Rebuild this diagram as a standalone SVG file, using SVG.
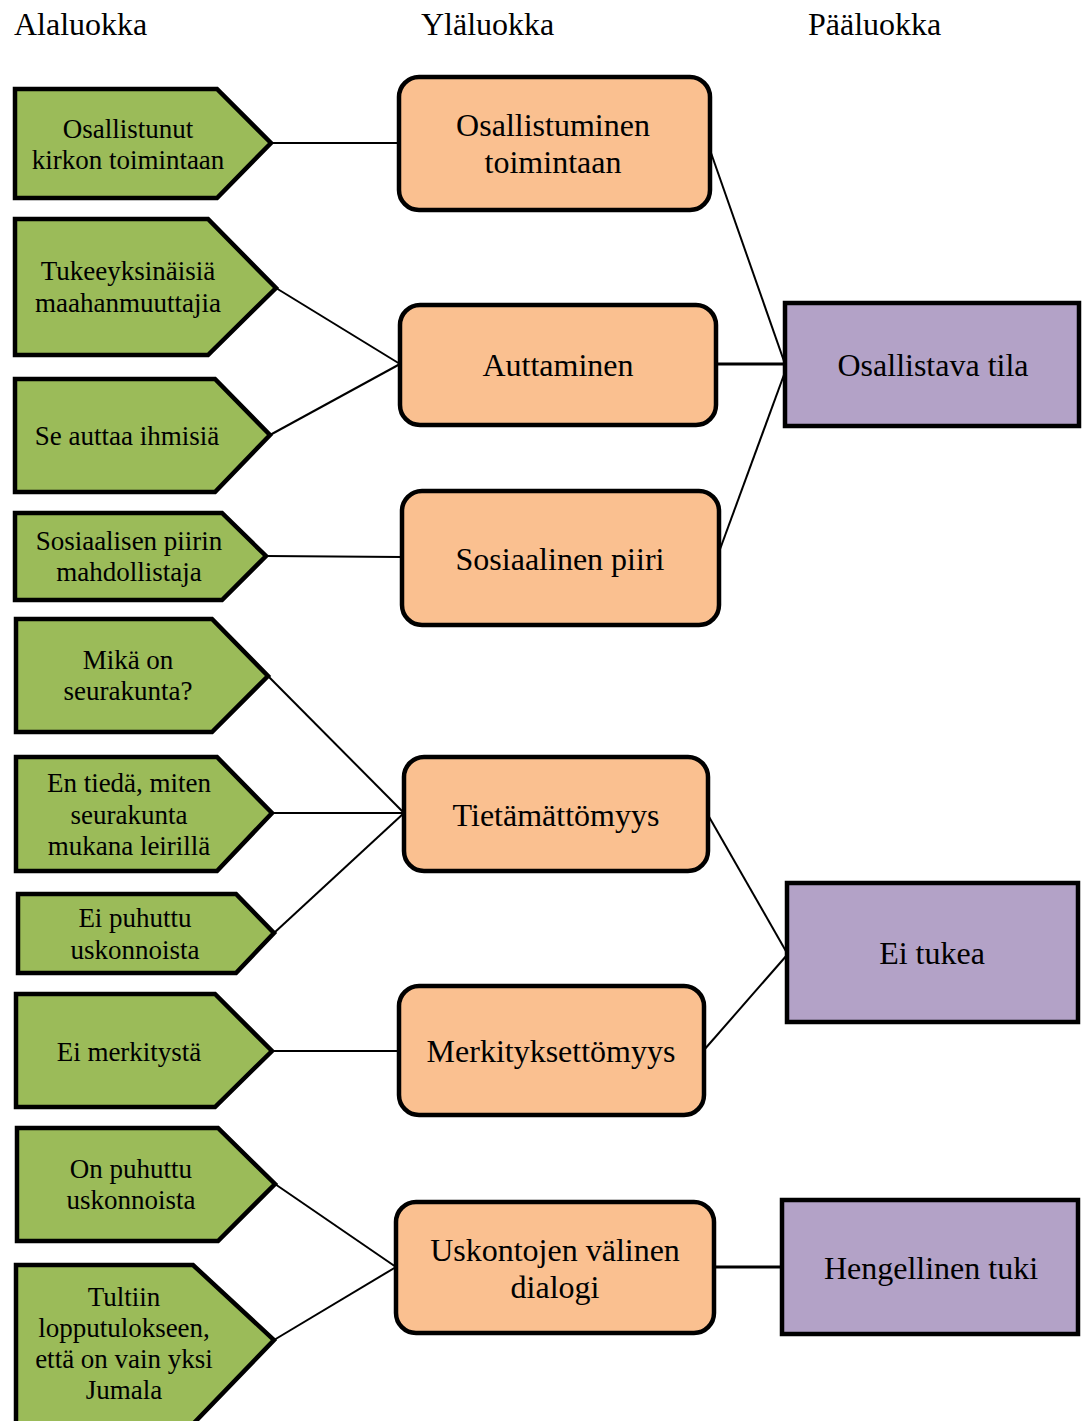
<svg xmlns="http://www.w3.org/2000/svg" width="1082" height="1421" viewBox="0 0 1082 1421">
<style>
.g{fill:#9BBB59;stroke:#000;stroke-width:4.5;stroke-linejoin:miter}
.o{fill:#FAC090;stroke:#000;stroke-width:4.5}
.p{fill:#B3A2C7;stroke:#000;stroke-width:4.5}
.c line{stroke:#000;stroke-width:2}
text{font-family:"Liberation Serif","Times New Roman",serif;fill:#000;text-anchor:middle}
.tg{font-size:27px}
.to{font-size:32px}
.th{font-size:32px;text-anchor:start}
</style>
<rect width="1082" height="1421" fill="#fff"/>
<g id="headers">
<text class="th" x="14" y="35">Alaluokka</text>
<text class="th" x="421" y="35">Yläluokka</text>
<text class="th" x="808" y="35">Pääluokka</text>
</g>
<g id="connectors" class="c">
<line x1="271" y1="143" x2="399" y2="143"/>
<line x1="276" y1="288" x2="400" y2="364"/>
<line x1="270" y1="435" x2="400" y2="364"/>
<line x1="266" y1="556" x2="402" y2="557"/>
<line x1="268" y1="676" x2="404" y2="813"/>
<line x1="272" y1="813" x2="404" y2="813"/>
<line x1="274" y1="933" x2="404" y2="813"/>
<line x1="272" y1="1051" x2="399" y2="1051"/>
<line x1="275" y1="1184" x2="396" y2="1267"/>
<line x1="274" y1="1340" x2="396" y2="1267"/>
<line x1="710" y1="150" x2="785" y2="364"/>
<line x1="716" y1="364" x2="785" y2="364" style="stroke-width:3"/>
<line x1="719" y1="552" x2="785" y2="372"/>
<line x1="708" y1="815" x2="787" y2="953"/>
<line x1="704" y1="1050" x2="787" y2="955"/>
<line x1="714" y1="1267" x2="782" y2="1267" style="stroke-width:3"/>
</g>
<g id="n1"><polygon class="g" points="15,89 217,89 271,143 217,198 15,198"/><text class="tg" x="128" y="138">Osallistunut</text><text class="tg" x="128" y="169">kirkon toimintaan</text></g>
<g id="n2"><polygon class="g" points="15,219 208,219 276,288 208,355 15,355"/><text class="tg" x="128" y="280">Tukeeyksinäisiä</text><text class="tg" x="128" y="312">maahanmuuttajia</text></g>
<g id="n3"><polygon class="g" points="15,379 215,379 270,435 215,492 15,492"/><text class="tg" x="127" y="445">Se auttaa ihmisiä</text></g>
<g id="n4"><polygon class="g" points="15,513 222,513 266,556 222,600 15,600"/><text class="tg" x="129" y="550">Sosiaalisen piirin</text><text class="tg" x="129" y="581">mahdollistaja</text></g>
<g id="n5"><polygon class="g" points="16,619 212,619 268,676 212,732 16,732"/><text class="tg" x="128" y="669">Mikä on</text><text class="tg" x="128" y="700">seurakunta?</text></g>
<g id="n6"><polygon class="g" points="16,757 217,757 272,813 217,871 16,871"/><text class="tg" x="129" y="792">En tiedä, miten</text><text class="tg" x="129" y="824">seurakunta</text><text class="tg" x="129" y="855">mukana leirillä</text></g>
<g id="n7"><polygon class="g" points="18,894 236,894 274,933 236,973 18,973"/><text class="tg" x="135" y="927">Ei puhuttu</text><text class="tg" x="135" y="959">uskonnoista</text></g>
<g id="n8"><polygon class="g" points="16,994 215,994 272,1051 215,1107 16,1107"/><text class="tg" x="129" y="1061">Ei merkitystä</text></g>
<g id="n9"><polygon class="g" points="17,1128 218,1128 275,1184 218,1241 17,1241"/><text class="tg" x="131" y="1178">On puhuttu</text><text class="tg" x="131" y="1209">uskonnoista</text></g>
<g id="n10"><polygon class="g" points="16,1265 193,1265 274,1340 193,1424 16,1424"/><text class="tg" x="124" y="1306">Tultiin</text><text class="tg" x="124" y="1337">lopputulokseen,</text><text class="tg" x="124" y="1368">että on vain yksi</text><text class="tg" x="124" y="1399">Jumala</text></g>
<g id="m1"><rect class="o" x="399" y="77" width="311" height="133" rx="20"/><text class="to" x="553" y="136">Osallistuminen</text><text class="to" x="553" y="173">toimintaan</text></g>
<g id="m2"><rect class="o" x="400" y="305" width="316" height="120" rx="20"/><text class="to" x="558" y="376">Auttaminen</text></g>
<g id="m3"><rect class="o" x="402" y="491" width="317" height="134" rx="20"/><text class="to" x="560" y="570">Sosiaalinen piiri</text></g>
<g id="m4"><rect class="o" x="404" y="757" width="304" height="114" rx="20"/><text class="to" x="556" y="826">Tietämättömyys</text></g>
<g id="m5"><rect class="o" x="399" y="986" width="305" height="129" rx="20"/><text class="to" x="551" y="1062">Merkityksettömyys</text></g>
<g id="m6"><rect class="o" x="396" y="1202" width="318" height="131" rx="20"/><text class="to" x="555" y="1261">Uskontojen välinen</text><text class="to" x="555" y="1298">dialogi</text></g>
<g id="p1"><rect class="p" x="785" y="303" width="294" height="123"/><text class="to" x="933" y="376">Osallistava tila</text></g>
<g id="p2"><rect class="p" x="787" y="883" width="291" height="139"/><text class="to" x="932" y="964">Ei tukea</text></g>
<g id="p3"><rect class="p" x="782" y="1200" width="296" height="134"/><text class="to" x="931" y="1279">Hengellinen tuki</text></g>
</svg>
